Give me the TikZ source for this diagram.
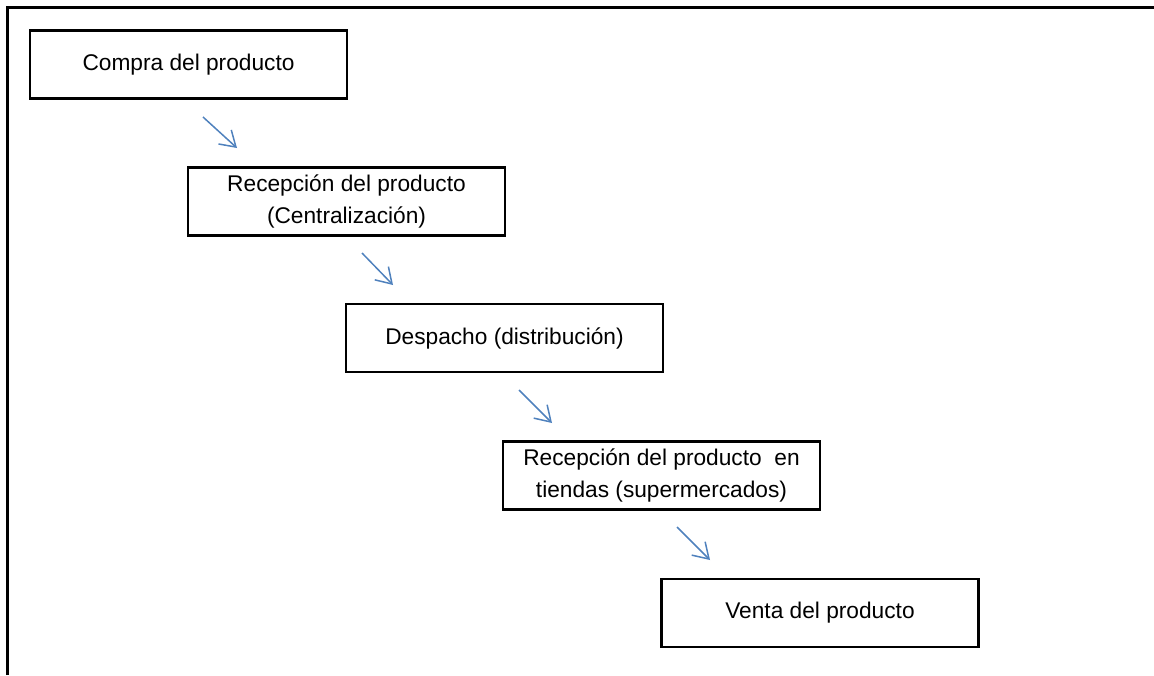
\documentclass[tikz,border=0pt]{standalone}
\usepackage{fontspec}
\setmainfont{Liberation Sans}
\usetikzlibrary{arrows.meta}
\definecolor{arrowblue}{RGB}{79,129,189}
\tikzset{
  stepbox/.style={draw=black, line width=2.3pt, rectangle, minimum width=317pt, minimum height=68pt,
    inner sep=0pt, align=center, font=\fontsize{22.7}{32}\selectfont},
  flowarrow/.style={draw=arrowblue, line width=1.5pt, -{Straight Barb[length=15pt,width=19pt,line width=1.5pt]}},
  frameline/.style={draw=black, line width=3pt}
}
\begin{document}
\begin{tikzpicture}[x=1pt,y=-1pt]
\useasboundingbox (0,0) rectangle (1154,675);
% frame
\coordinate (fbl) at (7.5,675);
\coordinate (ftl) at (7.5,7.5);
\coordinate (ftr) at (1154,7.5);
\draw[frameline] (fbl) -- (ftl) -- (ftr);
% boxes
\node[stepbox] (b1) at (188.5,64.5) {Compra del producto};
\node[stepbox] (b2) at (346.5,201.5) {Recepción del producto\\(Centralización)};
\node[stepbox] (b3) at (504.5,338) {Despacho (distribución)};
\node[stepbox] (b4) at (661.5,475.5) {Recepción del producto\ \ en\\tiendas (supermercados)};
\node[stepbox] (b5) at (820,613) {Venta del producto};
% arrows
\coordinate (a1s) at (203,117); \coordinate (a1e) at (237,148);
\coordinate (a2s) at (362,253); \coordinate (a2e) at (393,285);
\coordinate (a3s) at (519,390); \coordinate (a3e) at (552,423);
\coordinate (a4s) at (677,527); \coordinate (a4e) at (710,560);
\draw[flowarrow] (a1s) -- (a1e);
\draw[flowarrow] (a2s) -- (a2e);
\draw[flowarrow] (a3s) -- (a3e);
\draw[flowarrow] (a4s) -- (a4e);
\end{tikzpicture}
\end{document}
